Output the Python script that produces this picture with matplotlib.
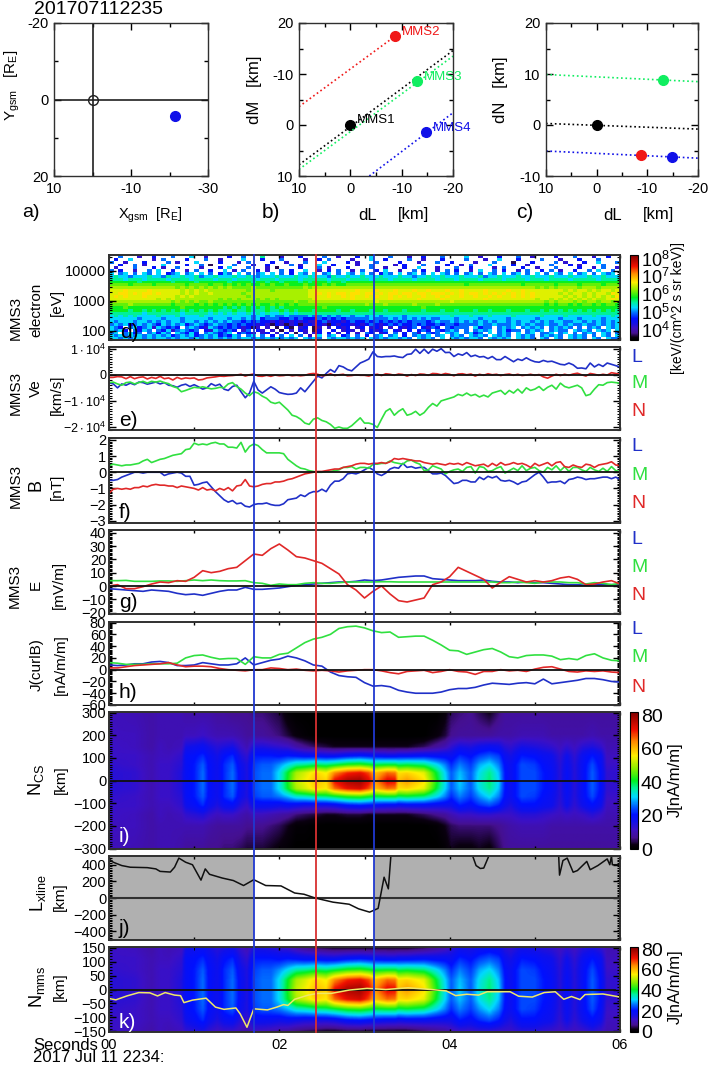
import numpy as np
import matplotlib
matplotlib.use("Agg")
import matplotlib.pyplot as plt
from matplotlib.colors import LinearSegmentedColormap, LogNorm, Normalize
from matplotlib.lines import Line2D
from matplotlib.ticker import MultipleLocator, FixedFormatter, NullFormatter, LogLocator
from matplotlib.cm import ScalarMappable

NARROW = ["Liberation Sans", "DejaVu Sans"]
WIDE = ["Liberation Sans", "DejaVu Sans"]
plt.rcParams["font.family"] = NARROW
plt.rcParams["mathtext.default"] = "regular"

W, H = 709, 1066
BLUE, GREEN, RED = "#2030c8", "#30e040", "#e02828"
FRAME = "#303030"

# ---------- spacecraft panels ----------
sc_point_x, sc_point_y = -21.3, 4.2
names = ["MMS1", "MMS2", "MMS3", "MMS4"]
sc_colors = ["black", "#f01818", "#10ee60", "#1010e8"]
dL = [0, -8.7, -13, -14.7]
dM = [0, -17.4, -8.6, 1.4]
dL_c = [0, -8.75, -13.1, -14.8]
dN = [0, -5.8, 8.9, -6.2]
line_b_x = [[10, -20], [10, -8.7], [10, -20], [-3.7, -20]]
line_b_y = [[7.8, -14.6], [-3.6, -17.4], [8.7, -13.5], [10, -2.4]]
line_c_x = [[10, -20], [10, -20], [10, -20]]
line_c_y = [[0.3, -0.8], [9.9, 8.5], [-5.1, -6.5]]
line_c_col = ["black", "#10ee60", "#1010e8"]

# ---------- spectrogram: log flux levels per row (top to bottom) ----------
level_log = {"0": 3.7, "1": 4.2, "2": 4.6, "3": 4.95, "4": 5.25, "5": 5.55, "6": 5.85,
             "7": 6.1, "8": 6.35, "9": 6.55, "a": 6.75}
spec_rows = [
 "..3...1..2...3...4..1....2..3...5...1...2....3..1...2..4...3...1..2...3....4..1...2...3..1....2...3...1..2.",
 ".2..4....1.3....2...3..1....4...2...3....1..2.3....1...4..2....3..1...2....3...1..4...2....3...1...2...3...",
 "3..1...2....3.1...4....2...1.3....2..1...3...4....2.1...3....2...1...3..2....1...3...0...2....3.1...2..4...",
 "..2..3.1...4....2..3.0....3...1..2....3.1...4..2....1..3....1.2...3....2..1.3...4....2..1....3...2.1....3..",
 ".1...3...2.1..3....1...2.4...3...1.0....2...3.1...2....3..1...2..4...1...3..2....1.3...2..1...3....2..1.3.",
 "3.2..1..3.4..2..1.3..2..4.1.3..2.1..3.2..4..1.2.3..1.3..2.4..1..3.2..1.3.2..1.4..3.2..1.3..2.3.1..2..3.4..",
 "4.34.3.43.4.234.34.4.3.243.4.3.34.4.3.2.43.4.34.3.43.4.3.243.4.34.3.4.43.3.34.3.43.4.34.3.4.3.43.4.34.3.43",
 "454434445443544544534454445445434445444544544435445445444544454434454454445444534454445445444544454445445444",
 "555455545555455554555545554555545554555545555545554555545554555545555455545555455554555545554555545555545555",
 "666666566666656666566666656666566566566656566656656666666666666666666666666666666666666666666666666666666666",
 "777767777677777767777677676767667676676667666767667777777777777777777777777677777777777677777767777677776777",
 "888888888888887878787878787777877777777778788888888888888888888888888888888888888888888888787878888788878888",
 "999a9999a9999998989898888888878888788888889999999999a999a999a999a99a999a99a9999a9999a99a99999999898998989989",
 "99aa9a9aa9a999989898898888887888888888888899a9a9aa9aa9aa9a9aa9aa9aa9aaa9a9a9aa9a9a9a9a9a9a9999989899898998a9",
 "9a9a999a99999989898888888888878888888888889999a99a9a99a9a99a9a9a99a99a9a99a99a99a9a99a9a9a99999989898989898a",
 "999999999989898888888887878788878787888888899999999a9999999a99999a9999a99999999a99999999998998989898989889a9",
 "888888888888878787877877777777777777777877888888888888889888888888888888988888888888888888887878887878878878",
 "777787777777767777676767676767676676767677777777777777877787777787777877777777777777777777776767767677676776",
 "666766666666666766666666565656565656566666666766666666666666666666766666666666666666666666666666666666666666",
 "666656656565656565656565556556555655656566656666566566656656665666566656656665665666566656656565656565656565",
 "555555545555555455555454545445454544545455555555555555555555555555555555555555555555555555555555555555555555",
 "454545444454445444454444444444344343343333433434344344344344443444444444544454445444454444454444544444544454",
 "444444344443444344444344434434342333223232223232323333343334343434343344434444344444344444344443444344443444",
 "434443443434344344343434343323232212121212112312212322323232323233323433434343434344343443434344334434343434",
 "343423434324343423432343323232212102101201212102122121232123232232322323323333433433343434334334343343343434",
 "432.34234143232.3432143232321201.1.0.20.12.01.1.212.12.121.1.2123.2132.32333.4233.3434.34343.34343.3.343.43",
 "4342.3243.324134323.2143232.13.21.1.0.1.21.02..2.121.1.2123.21.2.232.32343.3.3434.34233.3434.3433.4343.434.",
 "34.3423.34243.43242.343234.2321.12.1.2.0.1.12.2.1.2.1.32.12.3.2.31.323.434.3423.4.343.4.34.334.34.3.343.43.",
 "4343434343434234342343423243.34.3.2.3.4.3.1.4.34.23.3.2.34.34.2.3434.34.343.4343.4343.4343.34343.4343.3.43.",
 "4434344343443434434343434343443434343434.4343.43443434.434344343.4343.4.4343443.43434.4343.43.43.4343.43.433",
]

# ---------- Ve (x1000 km/s), step 0.05 s ----------
ve_L = [-3,-3.5,-5,-3.5,-4,-3.2,-3.8,-2.8,-3,-3.6, -3.2,-2.8,-3.5,-3,-4,-4.2,-4.8,-4,-3.6,-4.5,
        -3.8,-4.6,-5.5,-5,-3.4,-4.2,-3.6,-5.5,-6,-4.5, -4,-6.5,-8.8,-7,-2.5,-5.8,-7,-5.8,-4.6,-5.5,
        -6.8,-7.2,-7.5,-7.4,-7,-5,-6.5,-4.5,-2.5,-0.5, -1.2,0.5,2,1,3.5,3,2,1.5,3,4.5,
        5.2,6,8.8,7,6.8,7,7,7.2,6.8,6.6, 7.8,8,9.8,8.2,9.8,8.2,9.8,9,10,8.5,
        8.6,7,8,7.5,8.5,7,7.5,6.8,7,6.2, 7,5.8,5.8,7,6,5,6,5.5,6.5,5.6,
        5,4.8,5.5,5,5.2,4.6,4,3.8,4.5,3.8, 2.5,2.6,2.3,4.5,3,4,3.2,4.5,4,3.5,3]
ve_M = [-3,-2.8,-3.5,-4,-3,-2.8,-3.5,-3,-2.5,-3.2, -2.5,-2.8,-2.4,-3,-3.4,-4.5,-5,-6.5,-6,-5.4,
        -4.8,-5,-4.6,-5,-5.4,-5.2,-4.8,-5,-3.5,-3, -4.5,-5.5,-7,-8,-6.5,-7,-8.2,-9,-10.5,-11,
        -10.5,-12,-13.5,-15.5,-16,-17,-18.5,-19,-17,-16.5, -17.5,-18,-19,-20.5,-20,-20.5,-20.5,-19.5,-18,-16.5,
        -18.5,-18.5,-19,-20.2,-17,-14,-13,-15.5,-14,-13, -15.5,-15,-14,-15.5,-14.5,-12.5,-11,-12,-10,-9.5,
        -9,-8.5,-7.5,-8,-7,-8,-7.5,-8.5,-7.8,-8.5, -7,-6.5,-6,-7.5,-6,-7,-5.5,-7,-5,-6,
        -5.5,-4.5,-6,-4.8,-4,-5.5,-3.2,-4.5,-5,-4.5, -4,-5,-8,-7.5,-5.5,-3.8,-4,-3,-2.8,-3,-3.2]
ve_N = [-1,-1,-.7,-.8,-1.5,-.7,-1.5,-1,-.8,-1.6, -1,-1.4,-.6,-1.5,-1.2,-2,-1,-1.6,-1.2,-1.4,
        -1.2,-2,-1.8,-1.2,-1,-.8,-.5,-.6,-.4,-.3, -.1,.2,-.5,0,.3,-.5,-.6,-.2,-.6,-.1,
        -.4,-.3,0,-.4,-.2,-.4,-.2,.3,.5,.2, -.4,-.2,.4,-.3,0,.2,-.4,-.3,0,-.2,
        -.2,-.5,0,.2,-.3,.4,.2,-.2,.3,.1, -.5,.1,-.3,.3,.2,-.2,.5,.4,0,.5,
        .2,-.4,.3,.4,0,.3,-.5,.2,-.2,.4, 0,.2,-.3,.1,.3,-.2,.2,-.3,-.1,.2,
        -.2,.1,-.8,-1.3,-.5,.2,-.3,.2,-.2,.3, .6,0,-.5,.5,.2,-.2,.2,-.1,.8,.5,.2]

# ---------- B (nT), step 0.05 s ----------
b_L = [-.5,-.5,-.45,-.3,-.2,-.1,0,0,-.05,0, 0,0,0,-.2,-.1,-.05,0,-.05,-.25,-.25,
       -.8,-.75,-.65,-.6,-.9,-1.2,-1.45,-1.7,-1.85,-1.75, -1.95,-1.9,-2.1,-2.15,-2,-1.95,-1.95,-1.9,-2,-2.05,
       -2.05,-1.95,-1.7,-1.65,-1.6,-1.4,-1.5,-1.3,-1.2,-1.2, -1.05,-1.2,-.8,-.55,-.55,-.4,-.1,-.05,-.1,0,
       .15,.3,.15,-.1,-.2,-.05,.2,.3,.25,.55, .3,.35,.25,.3,.3,.1,-.1,-.1,-.05,-.2,
       -.45,-.7,-.65,-.5,-.5,-.6,-.6,-.3,-.45,-.25, -.35,-.25,-.5,-.55,-.5,-.6,-.75,-.6,-.55,-.35,
       -.15,0,-.3,-.65,-.6,-.6,-.55,-.7,-.45,-.4, -.3,-.35,-.45,-.4,-.4,-.35,-.3,-.3,-.4,-.3,-.45]
b_M = [.4,.5,.45,.4,.45,.45,.5,.55,.7,.8, .6,.7,.8,.85,.95,1.05,1.1,1.15,1.4,1.45,
       1.8,1.7,1.75,1.7,1.8,1.85,1.75,1.75,1.55,1.55, 1.5,1.85,1.25,1.6,1.75,1.65,1.4,1.2,1.2,1.2,
       1.2,1.15,.8,.6,.4,.25,.2,.1,.05,0, 0,.05,.05,.1,.15,.3,.3,.35,.2,.3,
       .3,.25,.5,.5,.55,.55,.7,.6,.55,.5, .7,.75,.6,.5,.1,.15,.4,.3,.2,-.1,
       .05,.15,.2,.05,.3,.35,-.05,.35,.3,.05, .1,.25,.35,-.05,.1,.25,.1,.4,.1,.25,
       .3,.1,0,.3,.15,.4,.1,.35,.05,.3, .3,.15,.05,.3,.15,.05,.25,.05,.35,.1,.05]
b_N = [-1.3,-1.05,-1,-1.05,-1,-1.05,-.95,-.95,-.85,-.9, -.8,-.75,-.8,-.8,-.85,-.85,-.95,-.85,-.9,-.95,
       -1,-1.1,-.95,-1.1,-1.05,-1.15,-1,-1.1,-.95,-1.15, -.85,-.8,-.45,-.85,-.9,-.85,-.75,-.7,-.7,-.6,
       -.6,-.55,-.45,-.4,-.3,-.2,-.1,-.05,0,.05, .05,.1,.15,.2,.2,.3,.35,.4,.5,.55,
       .55,.5,.55,.55,.6,.55,.65,.85,.8,.85, .8,.75,.7,.7,.6,.55,.5,.55,.5,.45,
       .55,.5,.55,.45,.6,.5,.4,.45,.5,.35, .55,.4,.6,.45,.5,.6,.5,.55,.45,.3,
       .55,.4,.5,.6,.4,.6,.65,.35,.3,.45, .35,.3,.5,.45,.3,.45,.5,.55,.65,.45,.4]

# ---------- E (mV/m), step 0.1 s ----------
e_N = [0,1,-2,-2,-.5,1.5,3,2.5,4,3.5, 6.5,11.5,10,11,13,14,19,24,23,28,
       31.5,27,22,21,19,17,13,9,1,-3, -9,-4,0,-6,-11,-12,-10.5,-9,1,3,
       7,14,11,8,5,-1.5,3,7,5,3, 4,3,4,6,7,5,1,1.5,3,4,1.5]
e_M = [4,4,4.2,3.5,3.5,3.5,3.8,3.8,3.5,4, 4.5,4,4.5,4,3.8,3.8,4,2.5,2,.5,
       1.5,1,1,2,2.5,2,2,2.5,3,3, 3,3,3.2,3.2,3,3,3,3,3,3,
       3,3,3,3,3,3,2.5,2.5,3,2.5, 2,3,3,3,2.5,2.5,1.5,2.5,2,1,2]
e_L = [-2,-2.5,-3,-3.5,-4,-3,-3.5,-4,-5.5,-6.5, -6,-7,-5.5,-4,-3,-3,-1,-2.5,-2.5,-2,
       -1.5,-.5,.5,1,1.5,2,2.5,3,3,3.5, 4.5,4,4.5,5.5,6.5,7,7.5,7.5,5.5,5,
       4.5,4,4,4,4.5,3.5,3,3,2.5,3, 2.5,2.5,2,1.5,1,1,.5,1,1,1,1]

# ---------- J from curl B (nA/m/m), step 0.1 s ----------
j_M = [12,11,9,9,9,10,10,10,11,20, 24,25,21,18,19,19,9,22,20,20,
       26,28,37,46,52,55,60,70,73,74, 71,66,63,64,55,56,57,57,50,42,
       33,32,26,30,34,36,30,22,20,24, 25,25,23,17,19,17,24,27,20,16,15]
j_L = [8,7,8,10,10,13,14,12,7,7, 8,12,10,8,8,10,20,8,12,16,
       18,23,20,15,8,6,-4,-10,-12,-13, -22,-28,-27,-29,-35,-38,-40,-40,-40,-38,
       -34,-32,-32,-30,-26,-23,-24,-25,-23,-22, -24,-16,-24,-22,-20,-18,-15,-15,-17,-20,-21]
j_N = [3,3,5,7,8,9,10,12,8,5, 6,6,5,2,0,-1,-2,0,0,3,
       2,0,1,-1,-2,-1,-2,-4,-2,-1, 0,0,-2,-5,-7,-3,-2,-1,-5,-3,
       0,-3,-4,-8,-3,-3,0,-2,-1,-3, 1,4,5,1,-3,-4,-2,-3,-2,-4,-5]

# ---------- current sheet table J(t, N) ----------
table_N = [300, 200, 150, 110, 70, 35, 0, -35, -70, -110, -150, -200, -300]
table_t = [0,.3,.5,.6,.7,.85,.9,1.0,1.1,1.17,1.27,1.35,1.45,1.55,1.62,1.7,1.8,1.9,2.0,2.1,2.2,2.3,2.43,2.55,
           2.65,2.8,2.95,3.05,3.13,3.27,3.36,3.40,3.5,3.7,3.85,3.95,4.02,4.12,4.25,4.35,4.47,4.58,4.65,4.72,
           4.85,5.0,5.1,5.2,5.3,5.38,5.47,5.57,5.68,5.78,5.85,6]
table_J = [
 [11,11,12,12,13,14,14,14,13,12,12,11,11],[10,11,11,12,12,13,13,13,12,12,11,11,10],
 [9,9,9,10,10,10,10,10,10,10,9,9,9],[10,10,11,11,12,12,12,12,12,11,11,10,10],
 [10,10,10,11,12,12,12,12,12,11,10,10,10],[10,10,11,13,14,15,15,15,14,13,11,10,9],
 [9,11,16,19,19,19,19,19,19,17,13,10,8],[9,11,17,20,21,21,21,21,21,19,14,10,8],
 [9,12,18,22,25,26,26,26,25,22,15,10,8],[9,11,16,19,20,20,20,20,20,18,13,9,7],
 [8,10,14,16,17,17,17,17,17,15,11,8,7],[8,10,15,20,22,22,22,22,22,18,12,8,6],
 [7,10,16,22,25,26,26,26,25,19,12,8,6],[7,9,12,15,17,18,18,18,17,14,10,8,5],
 [7,8,10,13,15,15,15,15,15,12,9,7,4],[6,8,15,21,23,24,24,24,23,18,11,7,4],
 [6,8,15,21,25,26,26,26,25,18,11,7,4],[5,7,14,21,25,26,26,26,25,18,10,6,3],
 [4,6,13,20,28,32,32,32,27,17,9,5,2],[1,4,12,21,32,41,42,41,30,18,8,3,1],
 [0,2,9,20,36,50,52,50,34,17,6,1,0],[0,1,7,19,37,53,55,53,35,16,5,1,0],
 [0,0,5,19,39,58,60,58,37,16,4,0,0],[0,0,4,18,38,55,58,56,38,16,3,0,0],
 [0,0,3,18,40,64,72,66,40,17,3,0,0],[0,0,3,20,43,70,78,72,43,20,4,0,0],
 [0,0,3,21,44,72,79,74,44,21,4,0,0],[0,0,3,20,42,68,73,68,42,20,3,0,0],
 [0,0,3,19,40,60,64,60,40,19,3,0,0],[0,0,3,18,41,66,73,66,41,18,3,0,0],
 [0,0,3,18,41,65,72,65,41,18,3,0,0],[0,0,3,19,39,57,60,57,39,17,3,0,0],
 [0,0,3,19,40,58,63,58,40,18,3,0,0],[0,0,5,20,38,54,57,54,38,18,5,0,0],
 [0,2,8,19,32,40,42,40,32,17,7,1,0],[2,4,10,19,27,31,32,31,27,17,8,3,1],
 [5,7,13,18,22,25,25,25,22,17,10,5,3],[6,8,16,22,27,30,31,30,27,21,12,6,2],
 [7,8,15,20,23,25,25,25,23,19,12,6,2],[5,8,17,23,29,32,33,32,28,22,13,6,3],
 [3,8,18,25,32,37,38,37,32,24,13,6,2],[6,9,17,23,27,30,31,30,27,21,12,7,5],
 [8,9,14,18,20,21,21,21,20,17,12,8,7],[8,9,13,16,18,18,18,18,18,15,12,9,8],
 [8,10,16,21,24,24,24,24,24,20,14,10,8],[8,10,15,20,23,24,24,24,23,20,14,10,8],
 [8,10,14,18,20,21,21,21,20,18,13,10,8],[8,9,13,17,18,19,19,19,18,17,12,9,8],
 [8,9,11,13,14,14,14,14,14,13,11,9,8],[8,9,13,17,18,19,19,19,18,17,12,9,8],
 [8,9,11,13,14,14,14,14,14,13,11,9,8],[8,9,14,18,19,19,19,19,19,17,12,9,8],
 [8,10,15,21,24,25,25,25,24,20,14,9,8],[8,9,13,18,19,20,20,20,19,17,12,9,8],
 [8,9,10,11,12,13,13,13,12,11,10,9,8],[8,9,10,11,12,13,13,13,12,11,10,9,8],
]

# ---------- X line location ----------
xl_t = [0,.05,.15,.25,.45,.55,.6,.72,.77,.82,.9,.98,1.08,1.13,1.18,1.33,1.46,1.58,1.70,1.84,2.02,2.18,2.29,2.42,2.63,2.82,2.93,3.06,3.16,3.23,3.28,3.31,3.32,
        4.27,4.31,4.36,4.40,4.46,4.47,5.28,5.29,5.33,5.38,5.45,5.5,5.61,5.65,5.74,5.85,5.88,5.9,5.91,6]
xl_v = [470,430,390,370,365,350,320,312,370,480,430,400,215,350,285,240,210,150,220,150,145,60,45,0,-50,-75,-130,-170,-125,250,110,510,np.nan,
        505,390,355,360,505,np.nan,505,275,450,480,310,330,440,340,390,470,400,505,400,400]

# ---------- spacecraft N location ----------
nm_t = [0,.08,.21,.35,.48,.57,.66,.77,.84,.88,.98,1.14,1.25,1.35,1.49,1.54,1.62,1.70,1.86,1.97,2.05,2.10,2.18,2.34,2.45,2.61,2.82,3.03,3.25,3.51,3.78,3.96,4.07,4.20,4.34,4.44,4.71,4.81,4.97,5.11,5.24,5.34,5.43,5.53,5.59,5.80,6.0]
nm_v = [-32,-37,-23,-11,-12,-23,-11,-20,-22,-47,-38,-31,-63,-71,-66,-87,-135,-69,-73,-63,-54,-57,-35,-20,-14,-14,-2,4,0,6,0,-5,-22,-17,-20,-8,-8,-24,-27,-11,-8,-35,-25,-36,-18,-16,-27]

event_times = [1.70, 2.43, 3.11]
event_colors = ["#2038d0", "#d83030", "#2038d0"]

cmap = LinearSegmentedColormap.from_list("idl", [
    (0, "#000000"), (.03, "#0a0010"), (.08, "#45108f"), (.14, "#3c10c4"), (.2, "#1010ea"), (.25, "#0010ff"),
    (.32, "#0070ff"), (.38, "#00d8ff"), (.44, "#00f0a0"), (.5, "#00f020"), (.58, "#80f000"),
    (.68, "#fff000"), (.78, "#ff9000"), (.87, "#f01000"), (1, "#800000")])
cmap.set_bad("white")

fig = plt.figure(figsize=(W / 100, H / 100), dpi=100, facecolor="white")

def axpx(x0, x1, y0, y1):
    return fig.add_axes([x0 / W, 1 - y1 / H, (x1 - x0) / W, (y1 - y0) / H])

def ftext(x, y, s, **kw):
    kw.setdefault("va", "center")
    kw.setdefault("ha", "left")
    kw.setdefault("fontsize", 11)
    return fig.text(x / W, 1 - y / H, s, **kw)

def frame(ax, lw=1.2):
    for s in ax.spines.values():
        s.set_linewidth(lw)
        s.set_color(FRAME)
        s.set_zorder(20)

# ---------- a ----------
def top_axes(x0, x1):
    ax = axpx(x0, x1, 23, 176)
    frame(ax, 1.0)
    ax.tick_params(which="major", direction="in", length=5, width=1, top=True, right=True, labelsize=10.5, pad=4)
    ax.tick_params(which="minor", direction="in", length=3, width=1, top=True, right=True)
    return ax

ax = top_axes(54, 208)
ax.set_xlim(10, -30); ax.set_ylim(20, -20)
ax.set_xticks([10, -10, -30]); ax.xaxis.set_major_formatter(FixedFormatter(["10", "-10", "-30"]))
ax.set_xticks([0, -20], minor=True)
ax.set_yticks([-20, 0, 20]); ax.set_yticklabels(["-20", "0", "20"])
ax.set_yticks([-10, 10], minor=True)
ax.axhline(0, color="#202020", lw=1.2); ax.axvline(0, color="#202020", lw=1.2)
ax.plot([0], [0], "o", mfc="none", mec="#202020", ms=7, mew=1)
ax.plot([sc_point_x], [sc_point_y], "o", color="#1010e8", ms=7)

ax = top_axes(299, 453)
ax.set_xlim(10, -20); ax.set_ylim(10, -20)
ax.set_xticks([10, 0, -10, -20]); ax.set_xticklabels(["10", "0", "-10", "-20"])
ax.xaxis.set_minor_locator(MultipleLocator(5))
ax.set_yticks([-20, -10, 0, 10]); ax.set_yticklabels(["20", "-10", "0", "10"])
ax.yaxis.set_minor_locator(MultipleLocator(5))
for i in range(4):
    ax.plot(line_b_x[i], line_b_y[i], ":", color=sc_colors[i], lw=1.2)
    ax.plot([dL[i]], [dM[i]], "o", color=sc_colors[i], ms=7, clip_on=False)
    ax.text(dL[i] - 1.3, dM[i] - 0.9, names[i], color=sc_colors[i], fontsize=9.5, va="center")

ax = top_axes(546, 698)
ax.set_xlim(10, -20); ax.set_ylim(-10, 20)
ax.set_xticks([10, 0, -10, -20]); ax.set_xticklabels(["10", "0", "-10", "-20"])
ax.xaxis.set_minor_locator(MultipleLocator(5))
ax.set_yticks([-10, 0, 10, 20]); ax.set_yticklabels(["-10", "0", "10", "20"])
ax.yaxis.set_minor_locator(MultipleLocator(5))
for i in range(3):
    ax.plot(line_c_x[i], line_c_y[i], ":", color=line_c_col[i], lw=1.2)
for i in range(4):
    ax.plot([dL_c[i]], [dN[i]], "o", color=sc_colors[i], ms=7)

ftext(34, 10, "201707112235", fontsize=14, family=WIDE)
ftext(22, 212, "a)", fontsize=14); ftext(262, 212, "b)", fontsize=15); ftext(516, 212, "c)", fontsize=15)
ftext(118, 215, r"$X_{gsm}$  [$R_E$]", fontsize=10.5)
ftext(358, 215, "dL", fontsize=12); ftext(398, 215, "[km]", fontsize=12)
ftext(603, 215, "dL", fontsize=12); ftext(643, 215, "[km]", fontsize=12)
ftext(12, 85, r"$Y_{gsm}$   [$R_E$]", rotation=90, ha="center", fontsize=11, family=WIDE)
ftext(255, 90, "dM   [km]", rotation=90, ha="center", fontsize=12, family=WIDE)
ftext(501, 90, "dN   [km]", rotation=90, ha="center", fontsize=12, family=WIDE)

# ---------- time panels ----------
PX0, PX1 = 109, 620

def time_axes(y0, y1, ylim, major=None, minor=None):
    ax = axpx(PX0, PX1, y0, y1)
    frame(ax, 1.4)
    ax.set_xlim(0, 6); ax.set_ylim(*ylim)
    ax.xaxis.set_major_locator(MultipleLocator(1))
    ax.xaxis.set_major_formatter(NullFormatter())
    ax.tick_params(axis="x", which="major", direction="in", length=2.5, width=1, top=True, bottom=True)
    ax.tick_params(axis="y", which="major", direction="in", length=5, width=1, left=True, right=True, labelsize=10.5, pad=2)
    ax.tick_params(axis="y", which="minor", direction="in", length=2.5, width=0.8, left=True, right=True)
    if major:
        ax.yaxis.set_major_locator(MultipleLocator(major))
    if minor:
        ax.yaxis.set_minor_locator(MultipleLocator(minor))
    return ax

def add_series(ax, L, M, N):
    for vals, col in ((L, BLUE), (M, GREEN), (N, RED)):
        ax.plot(np.linspace(0, 6, len(vals)), vals, color=col, lw=1.2, zorder=3)
    ax.axhline(0, color="#101010", lw=1.3, zorder=4)

def lmn(y_l, y_m, y_n):
    ftext(631, y_l, "L", color=BLUE, fontsize=14)
    ftext(631, y_m, "M", color=GREEN, fontsize=14)
    ftext(631, y_n, "N", color=RED, fontsize=14)

# d spectrogram
ax = time_axes(255, 340, (50, 34000))
ax.set_yscale("log"); ax.set_ylim(50, 34000)
n_col = 108
spec = np.full((len(spec_rows), n_col), np.nan)
for i, row in enumerate(spec_rows):
    row = (row * 2)[:n_col]
    for k, ch in enumerate(row):
        if ch in level_log:
            spec[i, k] = 10 ** level_log[ch]
norm_d = LogNorm(10 ** 3.43, 10 ** 8.2)
ax.pcolormesh(np.linspace(0, 6, n_col + 1), np.geomspace(34000, 50, len(spec_rows) + 1),
              np.ma.masked_invalid(spec), cmap=cmap, norm=norm_d, antialiased=False)
ax.set_yticks([100, 1000, 10000]); ax.set_yticklabels(["100", "1000", "10000"])
ax.yaxis.set_minor_locator(LogLocator(10, subs=np.arange(2, 10), numticks=12))
ax.yaxis.set_minor_formatter(NullFormatter())
ftext(120, 332, "d)", fontsize=15)

cax = axpx(630, 638, 255, 340); frame(cax, 0.8)
cb = fig.colorbar(ScalarMappable(norm=norm_d, cmap=cmap), cax=cax)
cb.set_ticks([1e4, 1e5, 1e6, 1e7, 1e8]); cb.minorticks_off()
cb.ax.tick_params(labelsize=13, length=0, pad=2)
ftext(678, 308, "[keV/(cm^2 s sr keV)]", rotation=90, ha="center", fontsize=10, family=WIDE)
ftext(16, 318, "MMS3", rotation=90, ha="center", family=WIDE)
ftext(36, 310, "electron", rotation=90, ha="center", family=WIDE)
ftext(57, 302, "[eV]", rotation=90, ha="center", family=WIDE)

# e
ax = time_axes(347, 430, (-21150, 10640), None, 1000)
add_series(ax, np.array(ve_L) * 1000, np.array(ve_M) * 1000, np.array(ve_N) * 1000)
ax.set_yticks([10000, 0, -10000, -20000])
ax.set_yticklabels([r"$1\cdot10^{4}$", "0", r"$-1\cdot10^{4}$", r"$-2\cdot10^{4}$"], fontsize=9)
ftext(119, 420, "e)", fontsize=15); lmn(357, 384, 412)
ftext(16, 393, "MMS3", rotation=90, ha="center", family=WIDE)
ftext(36, 388, "Ve", rotation=90, ha="center", family=WIDE)
ftext(57, 395, "[km/s]", rotation=90, ha="center", family=WIDE)

# f
ax = time_axes(438, 523, (-3.14, 2.12), 1, 0.1)
add_series(ax, b_L, b_M, b_N)
ftext(119, 512, "f)", fontsize=15); lmn(447, 476, 503)
ftext(16, 486, "MMS3", rotation=90, ha="center", family=WIDE)
ftext(36, 485, "B", rotation=90, ha="center", family=WIDE, fontsize=13)
ftext(57, 487, "[nT]", rotation=90, ha="center", family=WIDE)

# g
ax = time_axes(530, 614, (-21, 42), 10, 1)
add_series(ax, e_L, e_M, e_N)
ftext(119, 602, "g)", fontsize=15); lmn(539, 567, 595)
ftext(15, 586, "MMS3", rotation=90, ha="center", family=WIDE)
ftext(36, 585, "E", rotation=90, ha="center", family=WIDE)
ftext(59, 585, "[mV/m]", rotation=90, ha="center", family=WIDE)

# h
ax = time_axes(622, 705, (-60, 81), 20, 2)
add_series(ax, j_L, j_M, j_N)
ftext(119, 693, "h)", fontsize=15); lmn(630, 658, 687)
ftext(37, 665, "J(curlB)", rotation=90, ha="center", family=WIDE)
ftext(61, 665, "[nA/m/m]", rotation=90, ha="center", family=WIDE)

# i, k share the current sheet table, resampled for display
arr_J = np.array(table_J, float)
N_asc = np.array(table_N[::-1], float)
N_grid = np.linspace(-303, 303, 360)
t_grid = np.linspace(0, 6, 720)
tmp = np.array([np.interp(N_grid, N_asc, col[::-1]) for col in arr_J])
img_J = np.array([np.interp(t_grid, table_t, tmp[:, r]) for r in range(len(N_grid))])
norm_J = Normalize(0, 82)

def j_image(ax):
    ax.imshow(img_J, origin="lower", extent=[0, 6, -303, 303], aspect="auto", cmap=cmap, norm=norm_J, interpolation="bilinear")
    ax.axhline(0, xmin=0, xmax=0.99, color="#101010", lw=1.3, zorder=4)

def j_cbar(y0, y1, lab_y):
    c = axpx(630, 638, y0, y1); frame(c, 0.8)
    cb = fig.colorbar(ScalarMappable(norm=norm_J, cmap=cmap), cax=c)
    cb.set_ticks([0, 20, 40, 60, 80]); cb.minorticks_off()
    cb.ax.tick_params(labelsize=14, length=0, pad=2)
    ftext(675, lab_y, "J[nA/m/m]", rotation=90, ha="center", fontsize=12, family=WIDE)

ax = time_axes(712, 849, (-302, 303), 100, 10)
j_image(ax); ax.set_xlim(0, 6); ax.set_ylim(-302, 303)
ftext(119, 837, "i)", fontsize=15, color="white")
j_cbar(712, 849, 780)
ftext(36, 780, r"$N_{CS}$", rotation=90, ha="center", fontsize=13, family=WIDE)
ftext(61, 780, "[km]", rotation=90, ha="center", family=WIDE)

# j
ax = time_axes(856, 940, (-505, 505), 200, 20)
ax.set_facecolor("#b0b0b0")
ax.axvspan(event_times[0], event_times[2], color="white", zorder=1, lw=0)
ax.plot(xl_t, xl_v, color="#101010", lw=1.1, zorder=3)
ax.axhline(0, color="#303030", lw=1.5, zorder=2)
ftext(119, 929, "j)", fontsize=15)
ftext(38, 893, r"$L_{xline}$", rotation=90, ha="center", fontsize=13, family=WIDE)
ftext(60, 897, "[km]", rotation=90, ha="center", family=WIDE)

# k
ax = time_axes(947, 1032, (-152, 152), 50, 10)
j_image(ax); ax.set_xlim(0, 6); ax.set_ylim(-152, 152)
ax.plot(nm_t, nm_v, color="#f0e868", lw=1.1, zorder=5)
ftext(119, 1022, "k)", fontsize=15, color="white")
j_cbar(947, 1032, 987)
ftext(37, 987, r"$N_{mms}$", rotation=90, ha="center", fontsize=13, family=WIDE)
ftext(60, 987, "[km]", rotation=90, ha="center", family=WIDE)

ax.set_xticks([0, 2, 4, 6]); ax.set_xticklabels(["00", "02", "04", "06"])
ax.xaxis.set_minor_locator(MultipleLocator(1))
ax.tick_params(axis="x", which="major", labelsize=10.5, pad=4)
ax.tick_params(axis="x", which="minor", direction="in", length=2.5, top=True, bottom=True)

ftext(33, 1045, "Seconds", fontsize=12)
ftext(33, 1058, "2017 Jul 11 2234:", fontsize=12)

# event lines through all time panels
for tv, col in zip(event_times, event_colors):
    x = PX0 + (PX1 - PX0) * tv / 6
    fig.add_artist(Line2D([x / W, x / W], [1 - 255 / H, 1 - 1032 / H], color=col, lw=1.3, zorder=30))

fig.savefig("out.png", dpi=100)
